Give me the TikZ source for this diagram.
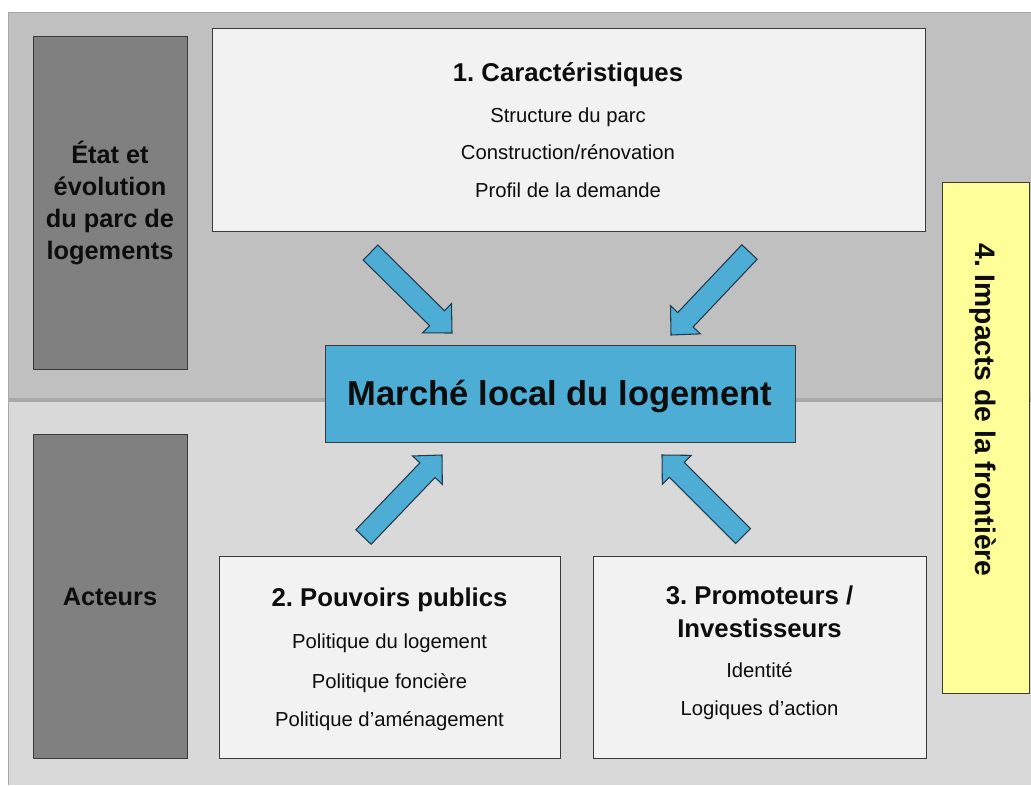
\documentclass[tikz,border=0pt]{standalone}
\usepackage{fontspec}
\setmainfont{Liberation Sans}
\usepackage{xcolor}
\usetikzlibrary{calc,fit,positioning}
\frenchspacing
\definecolor{ink}{HTML}{0D0D0D}
\definecolor{edge}{HTML}{3A3A3A}
\definecolor{topband}{HTML}{C0C0C0}
\definecolor{lowband}{HTML}{D9D9D9}
\definecolor{divider}{HTML}{A9A9A9}
\definecolor{sidegray}{HTML}{808080}
\definecolor{panelbg}{HTML}{F2F2F2}
\definecolor{aqua}{HTML}{4EADD5}
\definecolor{arrowedge}{HTML}{1F3A4C}
\definecolor{paleyellow}{HTML}{FFFF99}
\tikzset{
  every node/.style={text=ink},
  sidebox/.style={draw=edge,fill=sidegray,inner sep=0pt,line width=0.75pt},
  panel/.style={draw=edge,fill=panelbg,inner sep=0pt,line width=0.75pt},
  marketbox/.style={draw=edge,fill=aqua,inner sep=0pt,line width=0.75pt},
  borderbox/.style={draw=edge,fill=paleyellow,inner sep=0pt,line width=0.75pt},
  title/.style={font=\fontsize{19.3}{22}\selectfont\bfseries,anchor=base,inner sep=0pt},
  item/.style={font=\fontsize{15.2}{18}\selectfont,anchor=base,inner sep=0pt},
  sidelabel/.style={font=\fontsize{19}{23.8}\selectfont\bfseries,align=center,inner sep=0pt},
  blockarr/.style={draw=arrowedge,fill=aqua,line width=0.8pt,line join=miter}
}
% block arrow from a tail coordinate to a tip coordinate
\newcommand{\mktarrow}[2]{%
  \coordinate (#2base) at ($(#2)!15.75pt!(#1)$);
  \filldraw[blockarr] ($(#1)!7.9pt!90:(#2)$) -- ($(#2base)!7.9pt!-90:(#1)$)
    -- ($(#2base)!15.4pt!-90:(#1)$) -- (#2) -- ($(#2base)!15.4pt!90:(#1)$)
    -- ($(#2base)!7.9pt!90:(#1)$) -- ($(#1)!7.9pt!-90:(#2)$) -- cycle;}

\begin{document}
\begin{tikzpicture}[x=0.75pt,y=-0.75pt]
  \useasboundingbox (0,0) rectangle (1031,785);
  % background bands
  \fill[topband] (8,12) rectangle (1031,398);
  \fill[lowband] (8,402) rectangle (1031,785);
  \fill[divider] (8,398) rectangle (1031,402);
  \draw[divider,line width=1pt] (8.5,785) -- (8.5,12.5) -- (1031,12.5);

  % side labels
  \node[sidebox,fit={(33,36) (187,369)}] (stockSide) {};
  \node[sidelabel] (stockText) at (110,203) {État et\\évolution\\du parc de\\logements};
  \node[sidebox,fit={(33,434) (187,758)}] (actorSide) {};
  \node[sidelabel] (actorText) at (110,597) {Acteurs};

  % 1. characteristics
  \node[panel,fit={(212,28) (925,231)}] (carac) {};
  \node[title] (caracTitle) at (568,81) {1. Caractéristiques};
  \node[item] (caracA) at (568,122) {Structure du parc};
  \node[item] (caracB) at (568,159.5) {Construction/rénovation};
  \node[item] (caracC) at (568,197) {Profil de la demande};

  % central market
  \node[marketbox,fit={(325,345) (795,442)}] (market) {};
  \node[font=\fontsize{25.9}{30}\selectfont\bfseries,anchor=base,inner sep=0pt] (marketText) at (560,405) {Marché local du logement};

  % 2. public authorities
  \node[panel,fit={(219,556) (560,758)}] (publics) {};
  \node[title] (publicsTitle) at (389.5,606) {2. Pouvoirs publics};
  \node[item] (publicsA) at (389.5,648) {Politique du logement};
  \node[item] (publicsB) at (389.5,688) {Politique foncière};
  \node[item] (publicsC) at (389.5,726) {Politique d’aménagement};

  % 3. developers / investors
  \node[panel,fit={(593,556) (926,758)}] (promo) {};
  \node[title] (promoTitle) at (759.5,604) {3. Promoteurs /};
  \node[title] (promoTitleB) at (759.5,637) {Investisseurs};
  \node[item] (promoA) at (759.5,677) {Identité};
  \node[item] (promoB) at (759.5,715) {Logiques d’action};

  % 4. border impacts
  \node[borderbox,fit={(942,182) (1029,693)}] (border) {};
  \node[font=\fontsize{21.2}{24}\selectfont\bfseries,rotate=-90,inner sep=0pt] (borderText) at (983,410) {4. Impacts de la frontière};

  % arrows towards the market
  \coordinate (tlTail) at (370.5,252.5); \coordinate (tlTip) at (452,333);
  \coordinate (trTail) at (749.5,252);   \coordinate (trTip) at (671,335);
  \coordinate (blTail) at (363.5,537);   \coordinate (blTip) at (442,455);
  \coordinate (brTail) at (743,536);     \coordinate (brTip) at (662,455);
  \mktarrow{tlTail}{tlTip}
  \mktarrow{trTail}{trTip}
  \mktarrow{blTail}{blTip}
  \mktarrow{brTail}{brTip}
\end{tikzpicture}
\end{document}
